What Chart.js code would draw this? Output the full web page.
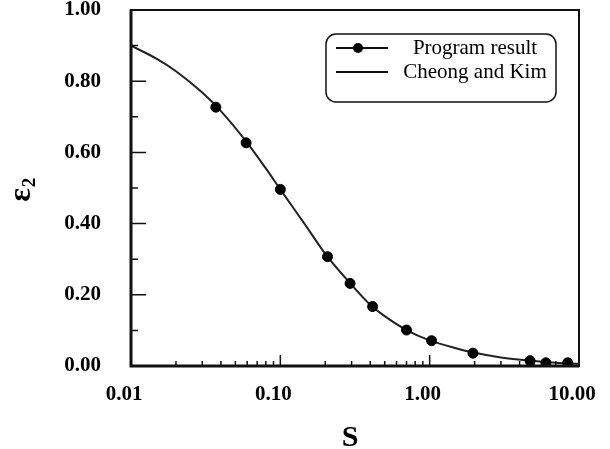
<!DOCTYPE html>
<html>
<head>
<meta charset="utf-8">
<script src="https://cdn.jsdelivr.net/npm/chart.js@4.4.0/dist/chart.umd.min.js"></script>
<style>
  html, body { margin: 0; padding: 0; background: #fff; }
  #wrap { width: 610px; height: 449px; }
</style>
</head>
<body>
<div id="wrap"><canvas id="chart" width="610" height="449"></canvas></div>
<script>
// program result points (S, epsilon_2)
const programS = [0.037, 0.059, 0.1, 0.207, 0.293, 0.415, 0.70, 1.03, 1.95, 4.7, 6.0, 8.4]
const programE = [0.727, 0.627, 0.496, 0.307, 0.232, 0.167, 0.101, 0.071, 0.036, 0.015, 0.009, 0.009]

// Cheong and Kim curve
const curveS = [0.01, 0.015, 0.02, 0.03, 0.04, 0.06, 0.08, 0.1, 0.15, 0.2, 0.3, 0.4, 0.5, 0.7, 1.0, 1.5, 2, 3, 5, 7, 10]
const curveE = [0.90, 0.862, 0.828, 0.768, 0.716, 0.627, 0.555, 0.496, 0.391, 0.315, 0.228, 0.172, 0.14, 0.101, 0.072, 0.05, 0.037, 0.024, 0.014, 0.009, 0.006]

const xMajor = [0.01, 0.1, 1, 10]
const xMinor = [2, 3, 4, 5, 6, 7, 8, 9]
const yMajor = [0, 0.2, 0.4, 0.6, 0.8, 1.0]
const yMinor = [0.1, 0.3, 0.5, 0.7, 0.9]

const seriesNames = ['Program result', 'Cheong and Kim']
const xTitle = 'S'
const yTitle = 'ε'
const yTitleSub = '2'

const SERIF = "'Liberation Serif', 'Times New Roman', serif"

function toPoints(xs, ys) {
  return xs.map((x, i) => ({ x, y: ys[i] }))
}

function allXTicks() {
  const out = []
  for (let d = 0.01; d < 10; d *= 10) {
    out.push(d)
    xMinor.forEach(m => out.push(+(m * d).toPrecision(3)))
  }
  out.push(10)
  return out
}

const frame = {
  id: 'frame',
  afterDraw(chart) {
    const { ctx, chartArea: a, scales } = chart
    ctx.save()
    ctx.strokeStyle = '#111'

    // inward tick marks
    ctx.lineWidth = 1.5
    ctx.beginPath()
    yMajor.forEach(v => {
      const y = scales.y.getPixelForValue(v)
      ctx.moveTo(a.left, y); ctx.lineTo(a.left + 15, y)
    })
    yMinor.forEach(v => {
      const y = scales.y.getPixelForValue(v)
      ctx.moveTo(a.left, y); ctx.lineTo(a.left + 7, y)
    })
    allXTicks().forEach(v => {
      const x = scales.x.getPixelForValue(v)
      const len = xMajor.includes(v) ? 11 : 5
      ctx.moveTo(x, a.bottom); ctx.lineTo(x, a.bottom - len)
    })
    ctx.stroke()

    // box
    ctx.lineWidth = 2
    ctx.strokeRect(a.left, a.top, a.right - a.left, a.bottom - a.top)
    ctx.lineWidth = 3
    ctx.beginPath()
    ctx.moveTo(a.left, a.top); ctx.lineTo(a.left, a.bottom); ctx.lineTo(a.right, a.bottom)
    ctx.stroke()

    // legend
    const lx = 326, ly = 34, lw = 230, lh = 68, r = 10
    ctx.lineWidth = 1.5
    ctx.beginPath()
    ctx.roundRect(lx, ly, lw, lh, r)
    ctx.fillStyle = '#fff'
    ctx.fill()
    ctx.stroke()

    ctx.lineWidth = 2
    ctx.beginPath()
    ctx.moveTo(336, 48); ctx.lineTo(388, 48)
    ctx.moveTo(336, 72); ctx.lineTo(388, 72)
    ctx.stroke()
    ctx.fillStyle = '#000'
    ctx.beginPath()
    ctx.arc(358, 48, 5, 0, Math.PI * 2)
    ctx.fill()

    ctx.font = '21px ' + SERIF
    ctx.textAlign = 'center'
    ctx.textBaseline = 'middle'
    ctx.fillText(seriesNames[0], 475, 48)
    ctx.fillText(seriesNames[1], 475, 72)

    // axis titles
    ctx.font = 'bold 30px ' + SERIF
    ctx.textBaseline = 'alphabetic'
    ctx.fillText(xTitle, 350, 446)

    ctx.translate(30, 190)
    ctx.rotate(-Math.PI / 2)
    ctx.textAlign = 'left'
    ctx.font = 'bold 32px ' + SERIF
    const w = ctx.measureText(yTitle).width
    ctx.fillText(yTitle, -w / 2 - 5, 0)
    ctx.font = 'bold 19px ' + SERIF
    ctx.fillText(yTitleSub, w / 2 - 4, 5)
    ctx.restore()
  }
}

new Chart(document.getElementById('chart'), {
  type: 'scatter',
  data: {
    datasets: [
      {
        label: seriesNames[0],
        data: toPoints(programS, programE),
        showLine: false,
        pointRadius: 5,
        pointBackgroundColor: '#000',
        pointBorderColor: '#000',
        order: 0,
      },
      {
        label: seriesNames[1],
        data: toPoints(curveS, curveE),
        showLine: true,
        borderColor: '#222',
        borderWidth: 2,
        pointRadius: 0,
        cubicInterpolationMode: 'monotone',
        order: 1,
      },
    ],
  },
  options: {
    responsive: false,
    animation: false,
    layout: { padding: { top: 10, right: 31, left: 0, bottom: 0 } },
    plugins: {
      legend: { display: false },
      tooltip: { enabled: false },
    },
    scales: {
      x: {
        type: 'logarithmic',
        min: 0.01,
        max: 10,
        grid: { display: false, drawTicks: false },
        border: { display: false },
        afterBuildTicks(scale) {
          scale.ticks = allXTicks().map(v => ({ value: v }))
        },
        afterFit(scale) {
          scale.height = 83
          scale.paddingLeft = 0
          scale.paddingRight = 0
        },
        ticks: {
          autoSkip: false,
          maxRotation: 0,
          padding: 16,
          labelOffset: -7,
          color: '#000',
          font: { family: SERIF, size: 21, weight: 'bold' },
          callback: v => (xMajor.includes(v) ? v.toFixed(2) : ''),
        },
      },
      y: {
        min: 0,
        max: 1,
        grid: { display: false, drawTicks: false },
        border: { display: false },
        afterFit(scale) {
          scale.width = 131
          scale.paddingTop = 0
          scale.paddingBottom = 0
        },
        ticks: {
          stepSize: 0.2,
          padding: 30,
          color: '#000',
          font: { family: SERIF, size: 21, weight: 'bold' },
          callback: v => v.toFixed(2),
        },
      },
    },
  },
  plugins: [frame],
})
</script>
</body>
</html>
